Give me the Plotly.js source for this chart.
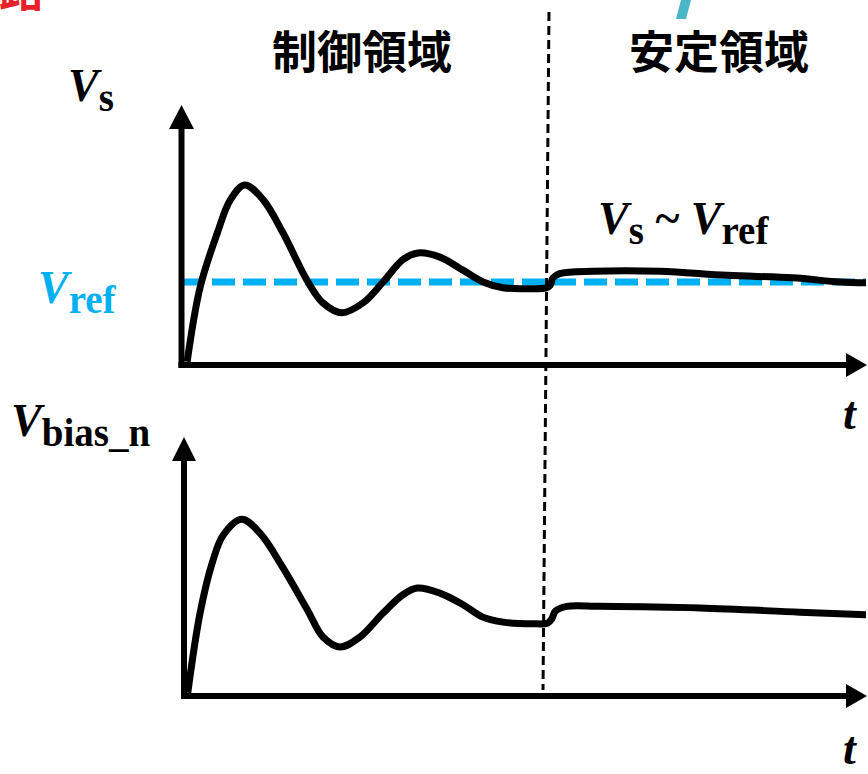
<!DOCTYPE html>
<html>
<head>
<meta charset="utf-8">
<script src="https://cdn.plot.ly/plotly-3.0.1.min.js"></script>
<style>html,body{margin:0;padding:0;background:#fff;}#chart{width:868px;height:774px;}</style>
</head>
<body>
<div id="chart"></div>
<script>
// ---- data (time t in arbitrary units, voltages normalised so Vref = 1) ----
const VREF = 1.0;
const vrefT = [0, 10];
const vsT = [0.09, 0.28, 0.53, 0.72, 0.93, 1.20, 1.49, 1.84, 2.07, 2.35, 2.66, 2.95, 3.24, 3.46, 3.78, 4.12, 4.41, 4.70, 5.10, 5.33, 5.39, 5.43, 5.53, 6.02, 6.99, 7.97, 8.93, 9.62, 10.0];
const vsV = [0.04, 0.94, 1.59, 1.99, 2.17, 1.99, 1.59, 1.02, 0.75, 0.63, 0.75, 1.00, 1.27, 1.35, 1.30, 1.14, 1.00, 0.93, 0.92, 0.93, 0.96, 1.05, 1.10, 1.13, 1.13, 1.08, 1.05, 1.00, 0.99];
const biasT = [0.07, 0.25, 0.43, 0.59, 0.86, 1.13, 1.46, 1.82, 2.05, 2.30, 2.59, 2.93, 3.22, 3.43, 3.76, 4.10, 4.39, 4.69, 5.12, 5.34, 5.40, 5.45, 5.62, 6.11, 7.57, 9.03, 10.0];
const biasV = [0.04, 1.00, 1.61, 1.94, 2.13, 1.96, 1.55, 1.04, 0.71, 0.59, 0.71, 1.00, 1.22, 1.30, 1.24, 1.10, 0.95, 0.89, 0.87, 0.88, 0.93, 1.02, 1.08, 1.08, 1.06, 1.01, 0.98];
const regionLabels = ['制御領域', '安定領域'];

// ---- layout helpers (pixels -> paper) ----
const W = 868, H = 774;
const PX = x => x / W;
const PY = y => 1 - y / H;

const mathFont = {family: 'Liberation Serif, DejaVu Serif, serif', size: 46, color: '#000'};
const cjkFont = {family: 'Noto Sans CJK JP, Noto Sans CJK SC, sans-serif', size: 45, color: '#000', weight: 700};
const sub = s => '<sub><span style="font-size:39px">' + s + '</span></sub>';

const traces = [
  {x: vrefT, y: [VREF, VREF], xaxis: 'x', yaxis: 'y', mode: 'lines',
   line: {color: '#00B0F0', width: 7, dash: '23px,8px'}, hoverinfo: 'skip'},
  {x: vsT, y: vsV, xaxis: 'x', yaxis: 'y', mode: 'lines',
   line: {color: '#000', width: 7, shape: 'spline', smoothing: 1}, hoverinfo: 'skip'},
  {x: biasT, y: biasV, xaxis: 'x2', yaxis: 'y2', mode: 'lines',
   line: {color: '#000', width: 7, shape: 'spline', smoothing: 1}, hoverinfo: 'skip'}
];

function tri(p1, p2, p3) {
  return 'M' + PX(p1[0]) + ',' + PY(p1[1]) + ' L' + PX(p2[0]) + ',' + PY(p2[1]) + ' L' + PX(p3[0]) + ',' + PY(p3[1]) + ' Z';
}
function seg(x0, y0, x1, y1, w, extra) {
  return Object.assign({type: 'line', xref: 'paper', yref: 'paper', x0: PX(x0), y0: PY(y0), x1: PX(x1), y1: PY(y1),
    line: {color: '#000', width: w}}, extra || {});
}
function fillPath(path, color) {
  return {type: 'path', xref: 'paper', yref: 'paper', path: path, fillcolor: color, line: {width: 0}};
}

const shapes = [
  // top axes
  seg(181.5, 368, 181.5, 126, 6),
  fillPath(tri([169, 129], [194, 129], [181.5, 105]), '#000'),
  seg(178.5, 365, 848, 365, 6),
  fillPath(tri([846, 353], [846, 377], [867, 365]), '#000'),
  // bottom axes
  seg(184, 699, 184, 458, 6),
  fillPath(tri([172, 461], [196, 461], [184, 437]), '#000'),
  seg(181, 696, 848, 696, 6),
  fillPath(tri([846, 684], [846, 708], [867, 696]), '#000'),
  // boundary between regions
  seg(549, 12, 543, 690, 3, {line: {color: '#000', width: 3, dash: '9px,5px'}}),
  // decorative cut-off stroke at top
  fillPath('M' + PX(676) + ',' + PY(19) + ' L' + PX(686) + ',' + PY(19) + ' L' + PX(691) + ',' + PY(0) + ' L' + PX(681) + ',' + PY(0) + ' Z', '#4BB6C6')
];

function ann(text, x, y, font, xa, ya) {
  return {text: text, xref: 'paper', yref: 'paper', x: PX(x), y: PY(y), xanchor: xa || 'center', yanchor: ya || 'middle',
    showarrow: false, font: font};
}

const annotations = [
  ann(regionLabels[0], 362, 50, cjkFont),
  ann(regionLabels[1], 719, 50, cjkFont),
  ann('<b><i>V</i>' + sub('s') + '</b>', 66, 90, mathFont, 'left'),
  ann('<b><i>V</i>' + sub('ref') + '</b>', 36, 292, Object.assign({}, mathFont, {color: '#00B0F0'}), 'left'),
  ann('<b><i>V</i>' + sub('s') + ' ~ <i>V</i>' + sub('ref') + '</b>', 596, 222, mathFont, 'left'),
  ann('<b><i>V</i>' + sub('bias_n') + '</b>', 9, 424, mathFont, 'left'),
  ann('<b><i>t</i></b>', 850, 414, mathFont),
  ann('<b><i>t</i></b>', 850, 748, mathFont),
  ann('回路', 46, 22, Object.assign({}, cjkFont, {color: '#E8202A'}), 'right', 'bottom')
];

const axisOff = {visible: false, showgrid: false, zeroline: false, fixedrange: true};
const layout = {
  width: W, height: H, margin: {l: 0, r: 0, t: 0, b: 0},
  paper_bgcolor: '#fff', plot_bgcolor: 'rgba(0,0,0,0)', showlegend: false,
  xaxis: Object.assign({}, axisOff, {domain: [PX(181), PX(866)], range: [0, 10], anchor: 'y'}),
  yaxis: Object.assign({}, axisOff, {domain: [PY(365), PY(105)], range: [0, 260 / 83], anchor: 'x'}),
  xaxis2: Object.assign({}, axisOff, {domain: [PX(183), PX(866)], range: [0, 10], anchor: 'y2'}),
  yaxis2: Object.assign({}, axisOff, {domain: [PY(696), PY(437)], range: [0, 259 / 83], anchor: 'x2'}),
  shapes: shapes, annotations: annotations
};

Plotly.newPlot('chart', traces, layout, {staticPlot: true, displayModeBar: false});
</script>
</body>
</html>
